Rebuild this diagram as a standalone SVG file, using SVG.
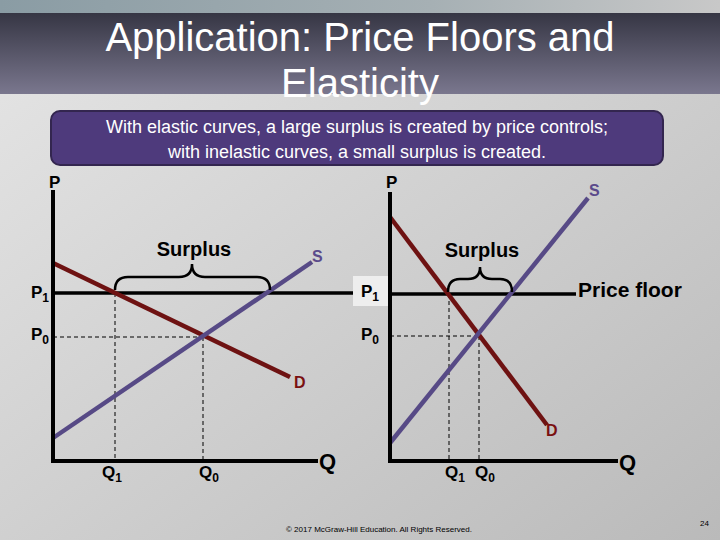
<svg xmlns="http://www.w3.org/2000/svg" width="720" height="540" viewBox="0 0 720 540">
<defs>
<linearGradient id="bg" x1="0" y1="0" x2="1" y2="1">
<stop offset="0" stop-color="#e6e6e6"/>
<stop offset="1" stop-color="#bababa"/>
</linearGradient>
<linearGradient id="band" x1="0" y1="0" x2="0" y2="1">
<stop offset="0" stop-color="#363644"/>
<stop offset="1" stop-color="#7a778e"/>
</linearGradient>
<linearGradient id="strip" x1="0" y1="0" x2="1" y2="0">
<stop offset="0" stop-color="#8a9ca4"/>
<stop offset="0.6" stop-color="#a6b0b4"/>
<stop offset="1" stop-color="#c8c8c8"/>
</linearGradient>
<style>
.ttl{font-family:"Liberation Sans",Arial,sans-serif;font-size:40px;fill:#ffffff;text-anchor:middle}
.sub{font-family:"Liberation Sans",Arial,sans-serif;font-size:18px;fill:#ffffff;text-anchor:middle}
.lbl{font-family:"Liberation Sans",Arial,sans-serif;font-size:17px;font-weight:bold;fill:#000}
.big{font-family:"Liberation Sans",Arial,sans-serif;font-size:22px;font-weight:bold;fill:#000}
.sur{font-family:"Liberation Sans",Arial,sans-serif;font-size:20px;font-weight:bold;fill:#000;text-anchor:middle}
.pf{font-family:"Liberation Sans",Arial,sans-serif;font-size:21px;font-weight:bold;fill:#000;text-anchor:start}
.dl{font-family:"Liberation Sans",Arial,sans-serif;font-size:16px;font-weight:bold;fill:#7a1010}
.sl{font-family:"Liberation Sans",Arial,sans-serif;font-size:16px;font-weight:bold;fill:#5b4a8b}
.axis{stroke:#000;stroke-width:4;fill:none}
.dem{stroke:#6e1212;stroke-width:4.5;fill:none}
.sup{stroke:#574a86;stroke-width:4.5;fill:none}
.flr{stroke:#000;stroke-width:3.5;fill:none}
.dash{stroke:#000;stroke-width:1;stroke-dasharray:4,3;fill:none}
.brace{stroke:#000;stroke-width:2.5;fill:none}
.foot{font-family:"Liberation Sans",Arial,sans-serif;font-size:8px;fill:#000}
</style>
</defs>
<rect x="0" y="0" width="720" height="540" fill="url(#bg)"/>
<rect x="0" y="0" width="720" height="13" fill="url(#strip)"/>
<rect x="0" y="13" width="720" height="81" fill="url(#band)"/>
<g id="title">
<text class="ttl" x="360" y="51">Application: Price Floors and</text>
<text class="ttl" x="360" y="97">Elasticity</text>
</g>
<g id="subtitle">
<rect x="51" y="111" width="612" height="54" rx="9" fill="#4e3a7c" stroke="#33264f" stroke-width="2"/>
<text class="sub" x="357" y="133">With elastic curves, a large surplus is created by price controls;</text>
<text class="sub" x="357" y="158">with inelastic curves, a small surplus is created.</text>
</g>
<g id="connectors">
<path class="dash" d="M53,337 L203,337"/>
<path class="dash" d="M115,293 L115,461"/>
<path class="dash" d="M203,337 L203,461"/>
<path class="flr" d="M53,293 L362,293"/>
<path class="dem" d="M53,263 L290,377"/>
<path class="sup" d="M53,438 L312,262"/>
<path class="axis" d="M53,190 L53,461 L318,461"/>
<path class="brace" d="M115,290 Q115,277 128,277 L179,277 Q192,277 192,264 Q192,277 205,277 L257,277 Q270,277 270,290"/>
<path class="dash" d="M390,336 L480,336"/>
<path class="dash" d="M449,294 L449,461"/>
<path class="dash" d="M479,336 L479,461"/>
<path class="flr" d="M390,294 L576,294"/>
<path class="dem" d="M390,217 L547,425"/>
<path class="sup" d="M390,443 L588,198"/>
<path class="axis" d="M390,192 L390,461 L618,461"/>
<path class="brace" d="M448,292 Q448,279 460,279 L468,279 Q480,279 480,267 Q480,279 492,279 L500,279 Q512,279 512,292"/>
</g>
<g id="left-labels">
<text class="lbl" x="49" y="188" font-size="18">P</text>
<text class="lbl" x="31" y="298">P<tspan font-size="12" dy="4">1</tspan></text>
<text class="lbl" x="31" y="340">P<tspan font-size="12" dy="4">0</tspan></text>
<text class="sur" x="194" y="256">Surplus</text>
<text class="sl" x="312" y="262">S</text>
<text class="dl" x="294" y="388">D</text>
<text class="lbl" x="102" y="478">Q<tspan font-size="12" dy="4">1</tspan></text>
<text class="lbl" x="199" y="478">Q<tspan font-size="12" dy="4">0</tspan></text>
<text class="big" x="319" y="469">Q</text>
</g>
<g id="right-labels">
<rect x="353" y="276" width="35" height="30" fill="#eeeeee"/>
<text class="lbl" x="386" y="188" font-size="18">P</text>
<text class="lbl" x="361" y="297">P<tspan font-size="12" dy="4">1</tspan></text>
<text class="lbl" x="361" y="340">P<tspan font-size="12" dy="4">0</tspan></text>
<text class="sur" x="482" y="257">Surplus</text>
<text class="sl" x="589" y="196">S</text>
<text class="dl" x="546" y="436">D</text>
<text class="lbl" x="445" y="478">Q<tspan font-size="12" dy="4">1</tspan></text>
<text class="lbl" x="475" y="478">Q<tspan font-size="12" dy="4">0</tspan></text>
<text class="big" x="619" y="470">Q</text>
<text class="pf" x="578" y="297">Price floor</text>
</g>
<g id="footer">
<text class="foot" x="286" y="532">© 2017 McGraw-Hill Education. All Rights Reserved.</text>
<text class="foot" x="700" y="526">24</text>
</g>
</svg>
